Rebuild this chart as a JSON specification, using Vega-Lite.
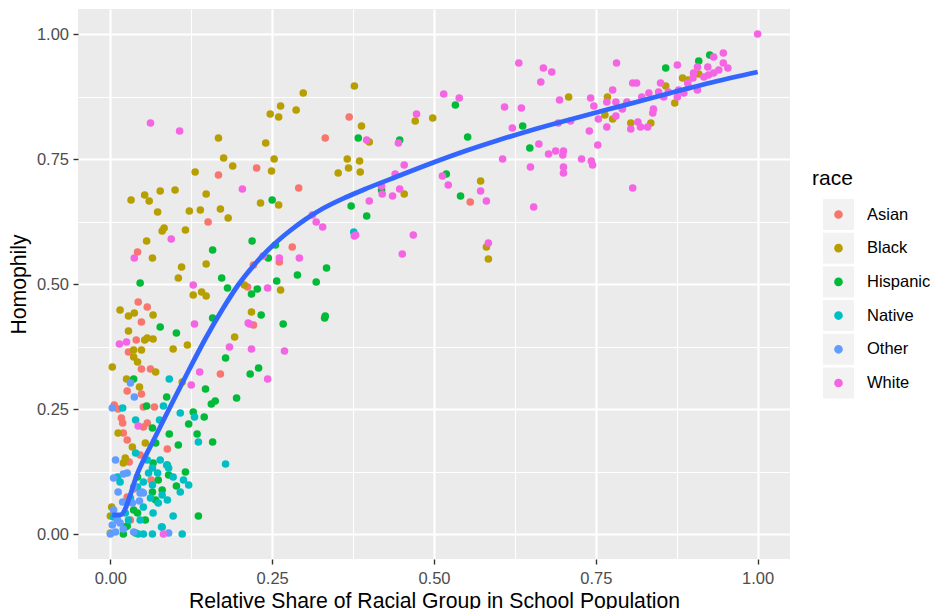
{
"$schema": "https://vega.github.io/schema/vega-lite/v6.json",
"width": 712, "height": 550,
"autosize": {"type": "none"},
"padding": {"left": 78, "top": 9, "right": 145, "bottom": 50},
"background": "white",
"config": {
  "view": {"fill": "#EBEBEB", "stroke": null},
  "font": "Liberation Sans",
  "axis": {"domain": false, "grid": true, "gridColor": "#FFFFFF", "tickColor": "#333333", "tickWidth": 1.4, "tickSize": 5, "labelColor": "#4D4D4D", "labelFontSize": 16.5, "labelFont": "Liberation Sans", "titleFont": "Liberation Sans", "titleFontSize": 21.2, "titleFontWeight": "normal", "titleColor": "#000000", "labelOverlap": false, "labelFlush": false}
},
"datasets": {
"pts": [
{"race":"Asian","share":0.332,"homophily":0.792},{"race":"Asian","share":0.226,"homophily":0.732},{"race":"Asian","share":0.167,"homophily":0.718},{"race":"Asian","share":0.291,"homophily":0.692},{"race":"Asian","share":0.151,"homophily":0.624},{"race":"Asian","share":0.042,"homophily":0.564},{"race":"Asian","share":0.281,"homophily":0.574},{"race":"Asian","share":0.221,"homophily":0.538},{"race":"Asian","share":0.261,"homophily":0.544},{"race":"Asian","share":0.369,"homophily":0.834},{"race":"Asian","share":0.556,"homophily":0.664},{"race":"Asian","share":0.212,"homophily":0.494},{"race":"Asian","share":0.221,"homophily":0.418},{"race":"Asian","share":0.170,"homophily":0.320},{"race":"Asian","share":0.043,"homophily":0.464},{"race":"Asian","share":0.057,"homophily":0.454},{"race":"Asian","share":0.048,"homophily":0.424},{"race":"Asian","share":0.040,"homophily":0.388},{"race":"Asian","share":0.028,"homophily":0.364},{"race":"Asian","share":0.048,"homophily":0.330},{"race":"Asian","share":0.062,"homophily":0.330},{"race":"Asian","share":0.026,"homophily":0.286},{"race":"Asian","share":0.048,"homophily":0.280},{"race":"Asian","share":0.006,"homophily":0.258},{"race":"Asian","share":0.012,"homophily":0.250},{"race":"Asian","share":0.051,"homophily":0.254},{"race":"Asian","share":0.068,"homophily":0.254},{"race":"Asian","share":0.017,"homophily":0.232},{"race":"Asian","share":0.019,"homophily":0.222},{"race":"Asian","share":0.057,"homophily":0.222},{"race":"Asian","share":0.051,"homophily":0.214},{"race":"Asian","share":0.020,"homophily":0.202},{"race":"Asian","share":0.026,"homophily":0.188},{"race":"Asian","share":0.088,"homophily":0.170},{"race":"Asian","share":0.046,"homophily":0.158},{"race":"Asian","share":0.029,"homophily":0.144},{"race":"Asian","share":0.063,"homophily":0.108},{"race":"Asian","share":0.036,"homophily":0.090},{"race":"Asian","share":0.026,"homophily":0.074},{"race":"Asian","share":0.031,"homophily":0.028},
{"race":"Black","share":0.298,"homophily":0.882},{"race":"Black","share":0.263,"homophily":0.856},{"race":"Black","share":0.247,"homophily":0.840},{"race":"Black","share":0.260,"homophily":0.834},{"race":"Black","share":0.287,"homophily":0.848},{"race":"Black","share":0.167,"homophily":0.792},{"race":"Black","share":0.240,"homophily":0.782},{"race":"Black","share":0.175,"homophily":0.752},{"race":"Black","share":0.189,"homophily":0.736},{"race":"Black","share":0.253,"homophily":0.750},{"race":"Black","share":0.249,"homophily":0.726},{"race":"Black","share":0.131,"homophily":0.724},{"race":"Black","share":0.352,"homophily":0.722},{"race":"Black","share":0.032,"homophily":0.668},{"race":"Black","share":0.053,"homophily":0.678},{"race":"Black","share":0.060,"homophily":0.666},{"race":"Black","share":0.077,"homophily":0.686},{"race":"Black","share":0.100,"homophily":0.688},{"race":"Black","share":0.148,"homophily":0.680},{"race":"Black","share":0.073,"homophily":0.644},{"race":"Black","share":0.122,"homophily":0.646},{"race":"Black","share":0.139,"homophily":0.648},{"race":"Black","share":0.170,"homophily":0.650},{"race":"Black","share":0.182,"homophily":0.632},{"race":"Black","share":0.232,"homophily":0.662},{"race":"Black","share":0.260,"homophily":0.658},{"race":"Black","share":0.083,"homophily":0.612},{"race":"Black","share":0.080,"homophily":0.606},{"race":"Black","share":0.116,"homophily":0.608},{"race":"Black","share":0.056,"homophily":0.586},{"race":"Black","share":0.065,"homophily":0.552},{"race":"Black","share":0.110,"homophily":0.534},{"race":"Black","share":0.148,"homophily":0.540},{"race":"Black","share":0.105,"homophily":0.512},{"race":"Black","share":0.141,"homophily":0.484},{"race":"Black","share":0.148,"homophily":0.476},{"race":"Black","share":0.128,"homophily":0.478},{"race":"Black","share":0.263,"homophily":0.488},{"race":"Black","share":0.207,"homophily":0.498},{"race":"Black","share":0.218,"homophily":0.444},{"race":"Black","share":0.192,"homophily":0.394},{"race":"Black","share":0.015,"homophily":0.448},{"race":"Black","share":0.028,"homophily":0.436},{"race":"Black","share":0.037,"homophily":0.442},{"race":"Black","share":0.066,"homophily":0.438},{"race":"Black","share":0.028,"homophily":0.406},{"race":"Black","share":0.053,"homophily":0.388},{"race":"Black","share":0.066,"homophily":0.390},{"race":"Black","share":0.057,"homophily":0.392},{"race":"Black","share":0.036,"homophily":0.368},{"race":"Black","share":0.048,"homophily":0.368},{"race":"Black","share":0.036,"homophily":0.354},{"race":"Black","share":0.042,"homophily":0.344},{"race":"Black","share":0.003,"homophily":0.334},{"race":"Black","share":0.070,"homophily":0.324},{"race":"Black","share":0.025,"homophily":0.310},{"race":"Black","share":0.045,"homophily":0.294},{"race":"Black","share":0.097,"homophily":0.370},{"race":"Black","share":0.119,"homophily":0.378},{"race":"Black","share":0.111,"homophily":0.304},{"race":"Black","share":0.012,"homophily":0.202},{"race":"Black","share":0.054,"homophily":0.182},{"race":"Black","share":0.034,"homophily":0.174},{"race":"Black","share":0.023,"homophily":0.152},{"race":"Black","share":0.020,"homophily":0.142},{"race":"Black","share":0.002,"homophily":0.054},{"race":"Black","share":0.0,"homophily":0.036},{"race":"Black","share":0.0,"homophily":0.002},{"race":"Black","share":0.377,"homophily":0.896},{"race":"Black","share":0.388,"homophily":0.816},{"race":"Black","share":0.400,"homophily":0.784},{"race":"Black","share":0.366,"homophily":0.750},{"race":"Black","share":0.385,"homophily":0.746},{"race":"Black","share":0.368,"homophily":0.732},{"race":"Black","share":0.386,"homophily":0.724},{"race":"Black","share":0.471,"homophily":0.826},{"race":"Black","share":0.498,"homophily":0.832},{"race":"Black","share":0.454,"homophily":0.680},{"race":"Black","share":0.572,"homophily":0.706},{"race":"Black","share":0.581,"homophily":0.574},{"race":"Black","share":0.584,"homophily":0.550},{"race":"Black","share":0.708,"homophily":0.874},{"race":"Black","share":0.768,"homophily":0.874},{"race":"Black","share":0.764,"homophily":0.838},{"race":"Black","share":0.776,"homophily":0.830},{"race":"Black","share":0.804,"homophily":0.822},{"race":"Black","share":0.835,"homophily":0.822},{"race":"Black","share":0.858,"homophily":0.896},{"race":"Black","share":0.872,"homophily":0.862},{"race":"Black","share":0.884,"homophily":0.912},{"race":"Black","share":0.892,"homophily":0.908},{"race":"Black","share":0.909,"homophily":0.920},
{"race":"Hispanic","share":0.250,"homophily":0.668},{"race":"Hispanic","share":0.219,"homophily":0.586},{"race":"Hispanic","share":0.158,"homophily":0.568},{"race":"Hispanic","share":0.244,"homophily":0.552},{"race":"Hispanic","share":0.255,"homophily":0.578},{"race":"Hispanic","share":0.289,"homophily":0.518},{"race":"Hispanic","share":0.334,"homophily":0.532},{"race":"Hispanic","share":0.318,"homophily":0.504},{"race":"Hispanic","share":0.172,"homophily":0.512},{"race":"Hispanic","share":0.046,"homophily":0.502},{"race":"Hispanic","share":0.533,"homophily":0.858},{"race":"Hispanic","share":0.552,"homophily":0.794},{"race":"Hispanic","share":0.637,"homophily":0.816},{"race":"Hispanic","share":0.648,"homophily":0.772},{"race":"Hispanic","share":0.447,"homophily":0.788},{"race":"Hispanic","share":0.383,"homophily":0.792},{"race":"Hispanic","share":0.519,"homophily":0.720},{"race":"Hispanic","share":0.541,"homophily":0.676},{"race":"Hispanic","share":0.372,"homophily":0.656},{"race":"Hispanic","share":0.396,"homophily":0.636},{"race":"Hispanic","share":0.419,"homophily":0.688},{"race":"Hispanic","share":0.858,"homophily":0.932},{"race":"Hispanic","share":0.909,"homophily":0.946},{"race":"Hispanic","share":0.926,"homophily":0.958},{"race":"Hispanic","share":0.257,"homophily":0.506},{"race":"Hispanic","share":0.181,"homophily":0.492},{"race":"Hispanic","share":0.227,"homophily":0.490},{"race":"Hispanic","share":0.218,"homophily":0.480},{"race":"Hispanic","share":0.233,"homophily":0.438},{"race":"Hispanic","share":0.267,"homophily":0.420},{"race":"Hispanic","share":0.332,"homophily":0.436},{"race":"Hispanic","share":0.331,"homophily":0.432},{"race":"Hispanic","share":0.158,"homophily":0.432},{"race":"Hispanic","share":0.102,"homophily":0.402},{"race":"Hispanic","share":0.077,"homophily":0.414},{"race":"Hispanic","share":0.178,"homophily":0.352},{"race":"Hispanic","share":0.229,"homophily":0.332},{"race":"Hispanic","share":0.216,"homophily":0.320},{"race":"Hispanic","share":0.147,"homophily":0.290},{"race":"Hispanic","share":0.195,"homophily":0.272},{"race":"Hispanic","share":0.162,"homophily":0.266},{"race":"Hispanic","share":0.156,"homophily":0.260},{"race":"Hispanic","share":0.128,"homophily":0.244},{"race":"Hispanic","share":0.145,"homophily":0.234},{"race":"Hispanic","share":0.121,"homophily":0.220},{"race":"Hispanic","share":0.036,"homophily":0.310},{"race":"Hispanic","share":0.087,"homophily":0.274},{"race":"Hispanic","share":0.056,"homophily":0.256},{"race":"Hispanic","share":0.134,"homophily":0.200},{"race":"Hispanic","share":0.158,"homophily":0.184},{"race":"Hispanic","share":0.105,"homophily":0.178},{"race":"Hispanic","share":0.091,"homophily":0.200},{"race":"Hispanic","share":0.065,"homophily":0.212},{"race":"Hispanic","share":0.070,"homophily":0.182},{"race":"Hispanic","share":0.116,"homophily":0.124},{"race":"Hispanic","share":0.088,"homophily":0.138},{"race":"Hispanic","share":0.090,"homophily":0.118},{"race":"Hispanic","share":0.102,"homophily":0.096},{"race":"Hispanic","share":0.080,"homophily":0.088},{"race":"Hispanic","share":0.065,"homophily":0.084},{"race":"Hispanic","share":0.070,"homophily":0.068},{"race":"Hispanic","share":0.036,"homophily":0.048},{"race":"Hispanic","share":0.054,"homophily":0.028},{"race":"Hispanic","share":0.023,"homophily":0.014},{"race":"Hispanic","share":0.039,"homophily":0.002},{"race":"Hispanic","share":0.020,"homophily":0.0},{"race":"Hispanic","share":0.136,"homophily":0.036},{"race":"Hispanic","share":0.074,"homophily":0.108},{"race":"Hispanic","share":0.042,"homophily":0.114},{"race":"Hispanic","share":0.066,"homophily":0.142},{"race":"Hispanic","share":0.042,"homophily":0.042},{"race":"Hispanic","share":0.026,"homophily":0.016},
{"race":"Native","share":0.091,"homophily":0.310},{"race":"Native","share":0.082,"homophily":0.256},{"race":"Native","share":0.019,"homophily":0.252},{"race":"Native","share":0.130,"homophily":0.234},{"race":"Native","share":0.039,"homophily":0.228},{"race":"Native","share":0.076,"homophily":0.228},{"race":"Native","share":0.136,"homophily":0.184},{"race":"Native","share":0.178,"homophily":0.140},{"race":"Native","share":0.097,"homophily":0.114},{"race":"Native","share":0.121,"homophily":0.098},{"race":"Native","share":0.108,"homophily":0.084},{"race":"Native","share":0.088,"homophily":0.068},{"race":"Native","share":0.074,"homophily":0.062},{"race":"Native","share":0.062,"homophily":0.072},{"race":"Native","share":0.051,"homophily":0.054},{"race":"Native","share":0.051,"homophily":0.104},{"race":"Native","share":0.059,"homophily":0.122},{"race":"Native","share":0.077,"homophily":0.148},{"race":"Native","share":0.057,"homophily":0.148},{"race":"Native","share":0.065,"homophily":0.132},{"race":"Native","share":0.042,"homophily":0.094},{"race":"Native","share":0.031,"homophily":0.072},{"race":"Native","share":0.015,"homophily":0.104},{"race":"Native","share":0.011,"homophily":0.114},{"race":"Native","share":0.097,"homophily":0.036},{"race":"Native","share":0.079,"homophily":0.014},{"race":"Native","share":0.111,"homophily":0.0},{"race":"Native","share":0.065,"homophily":0.0},{"race":"Native","share":0.051,"homophily":0.0},{"race":"Native","share":0.043,"homophily":0.0},{"race":"Native","share":0.023,"homophily":0.042},{"race":"Native","share":0.046,"homophily":0.028},{"race":"Native","share":0.073,"homophily":0.122},{"race":"Native","share":0.090,"homophily":0.132},{"race":"Native","share":0.080,"homophily":0.078},{"race":"Native","share":0.065,"homophily":0.098},{"race":"Native","share":0.376,"homophily":0.604},{"race":"Native","share":0.108,"homophily":0.242},{"race":"Native","share":0.039,"homophily":0.162},{"race":"Native","share":0.005,"homophily":0.034},{"race":"Native","share":0.028,"homophily":0.028},{"race":"Native","share":0.080,"homophily":0.014},{"race":"Native","share":0.066,"homophily":0.042},{"race":"Native","share":0.087,"homophily":0.138},{"race":"Native","share":0.113,"homophily":0.108},
{"race":"Other","share":0.008,"homophily":0.148},{"race":"Other","share":0.005,"homophily":0.112},{"race":"Other","share":0.020,"homophily":0.120},{"race":"Other","share":0.012,"homophily":0.084},{"race":"Other","share":0.019,"homophily":0.064},{"race":"Other","share":0.005,"homophily":0.048},{"race":"Other","share":0.011,"homophily":0.028},{"race":"Other","share":0.003,"homophily":0.018},{"race":"Other","share":0.015,"homophily":0.022},{"race":"Other","share":0.008,"homophily":0.004},{"race":"Other","share":0.0,"homophily":0.0},{"race":"Other","share":0.020,"homophily":0.010},{"race":"Other","share":0.036,"homophily":0.094},{"race":"Other","share":0.046,"homophily":0.082},{"race":"Other","share":0.026,"homophily":0.122},{"race":"Other","share":0.051,"homophily":0.082},{"race":"Other","share":0.003,"homophily":0.252},{"race":"Other","share":0.037,"homophily":0.274},{"race":"Other","share":0.031,"homophily":0.302},{"race":"Other","share":0.036,"homophily":0.004},{"race":"Other","share":0.049,"homophily":0.084},{"race":"Other","share":0.045,"homophily":0.066},{"race":"Other","share":0.034,"homophily":0.062},{"race":"Other","share":0.090,"homophily":0.002},
{"race":"White","share":0.062,"homophily":0.822},{"race":"White","share":0.107,"homophily":0.806},{"race":"White","share":0.204,"homophily":0.690},{"race":"White","share":0.094,"homophily":0.590},{"race":"White","share":0.037,"homophily":0.552},{"race":"White","share":0.292,"homophily":0.552},{"race":"White","share":0.261,"homophily":0.552},{"race":"White","share":0.236,"homophily":0.556},{"race":"White","share":0.312,"homophily":0.638},{"race":"White","share":0.318,"homophily":0.624},{"race":"White","share":0.328,"homophily":0.614},{"race":"White","share":0.128,"homophily":0.498},{"race":"White","share":0.130,"homophily":0.420},{"race":"White","share":0.215,"homophily":0.420},{"race":"White","share":0.184,"homophily":0.374},{"race":"White","share":0.218,"homophily":0.370},{"race":"White","share":0.269,"homophily":0.366},{"race":"White","share":0.138,"homophily":0.324},{"race":"White","share":0.125,"homophily":0.298},{"race":"White","share":0.243,"homophily":0.310},{"race":"White","share":0.014,"homophily":0.380},{"race":"White","share":0.025,"homophily":0.384},{"race":"White","share":0.243,"homophily":0.492},{"race":"White","share":0.377,"homophily":0.596},{"race":"White","share":0.213,"homophily":0.422},{"race":"White","share":0.043,"homophily":0.216},{"race":"White","share":0.082,"homophily":0.0},{"race":"White","share":0.515,"homophily":0.880},{"race":"White","share":0.539,"homophily":0.872},{"race":"White","share":0.609,"homophily":0.854},{"race":"White","share":0.635,"homophily":0.852},{"race":"White","share":0.621,"homophily":0.812},{"race":"White","share":0.694,"homophily":0.868},{"race":"White","share":0.662,"homophily":0.780},{"race":"White","share":0.677,"homophily":0.760},{"race":"White","share":0.606,"homophily":0.750},{"race":"White","share":0.649,"homophily":0.734},{"race":"White","share":0.654,"homophily":0.654},{"race":"White","share":0.396,"homophily":0.788},{"race":"White","share":0.445,"homophily":0.782},{"race":"White","share":0.473,"homophily":0.840},{"race":"White","share":0.454,"homophily":0.738},{"race":"White","share":0.440,"homophily":0.720},{"race":"White","share":0.513,"homophily":0.716},{"race":"White","share":0.522,"homophily":0.698},{"race":"White","share":0.447,"homophily":0.690},{"race":"White","share":0.420,"homophily":0.680},{"race":"White","share":0.436,"homophily":0.676},{"race":"White","share":0.400,"homophily":0.666},{"race":"White","share":0.419,"homophily":0.696},{"race":"White","share":0.572,"homophily":0.686},{"race":"White","share":0.581,"homophily":0.666},{"race":"White","share":0.379,"homophily":0.598},{"race":"White","share":0.468,"homophily":0.598},{"race":"White","share":0.451,"homophily":0.560},{"race":"White","share":0.584,"homophily":0.582},{"race":"White","share":1.0,"homophily":1.0},{"race":"White","share":0.947,"homophily":0.962},{"race":"White","share":0.932,"homophily":0.954},{"race":"White","share":0.876,"homophily":0.938},{"race":"White","share":0.782,"homophily":0.942},{"race":"White","share":0.669,"homophily":0.932},{"race":"White","share":0.682,"homophily":0.924},{"race":"White","share":0.665,"homophily":0.904},{"race":"White","share":0.807,"homophily":0.902},{"race":"White","share":0.813,"homophily":0.902},{"race":"White","share":0.776,"homophily":0.888},{"race":"White","share":0.742,"homophily":0.872},{"race":"White","share":0.747,"homophily":0.856},{"race":"White","share":0.767,"homophily":0.864},{"race":"White","share":0.781,"homophily":0.864},{"race":"White","share":0.798,"homophily":0.864},{"race":"White","share":0.821,"homophily":0.874},{"race":"White","share":0.832,"homophily":0.882},{"race":"White","share":0.850,"homophily":0.902},{"race":"White","share":0.847,"homophily":0.884},{"race":"White","share":0.855,"homophily":0.874},{"race":"White","share":0.862,"homophily":0.884},{"race":"White","share":0.878,"homophily":0.888},{"race":"White","share":0.892,"homophily":0.902},{"race":"White","share":0.901,"homophily":0.922},{"race":"White","share":0.907,"homophily":0.934},{"race":"White","share":0.923,"homophily":0.934},{"race":"White","share":0.932,"homophily":0.922},{"race":"White","share":0.940,"homophily":0.928},{"race":"White","share":0.954,"homophily":0.932},{"race":"White","share":0.947,"homophily":0.942},{"race":"White","share":0.907,"homophily":0.888},{"race":"White","share":0.791,"homophily":0.850},{"race":"White","share":0.781,"homophily":0.836},{"race":"White","share":0.754,"homophily":0.830},{"race":"White","share":0.767,"homophily":0.814},{"race":"White","share":0.740,"homophily":0.806},{"race":"White","share":0.753,"homophily":0.778},{"race":"White","share":0.711,"homophily":0.826},{"race":"White","share":0.692,"homophily":0.822},{"race":"White","share":0.839,"homophily":0.850},{"race":"White","share":0.838,"homophily":0.842},{"race":"White","share":0.815,"homophily":0.824},{"race":"White","share":0.819,"homophily":0.814},{"race":"White","share":0.830,"homophily":0.814},{"race":"White","share":0.804,"homophily":0.810},{"race":"White","share":0.688,"homophily":0.766},{"race":"White","share":0.700,"homophily":0.766},{"race":"White","share":0.699,"homophily":0.758},{"race":"White","share":0.700,"homophily":0.734},{"race":"White","share":0.700,"homophily":0.722},{"race":"White","share":0.728,"homophily":0.750},{"race":"White","share":0.743,"homophily":0.746},{"race":"White","share":0.745,"homophily":0.738},{"race":"White","share":0.807,"homophily":0.692},{"race":"White","share":0.876,"homophily":0.874},{"race":"White","share":0.886,"homophily":0.882},{"race":"White","share":0.924,"homophily":0.918},{"race":"White","share":0.917,"homophily":0.914},{"race":"White","share":0.900,"homophily":0.912},{"race":"White","share":0.893,"homophily":0.894},{"race":"White","share":0.631,"homophily":0.942}
],
"smooth": [
{"share":0.003,"homophily":0.038},{"share":0.015,"homophily":0.038},{"share":0.044,"homophily":0.128},{"share":0.070,"homophily":0.196},{"share":0.095,"homophily":0.261},{"share":0.121,"homophily":0.327},{"share":0.147,"homophily":0.391},{"share":0.173,"homophily":0.449},{"share":0.198,"homophily":0.499},{"share":0.224,"homophily":0.541},{"share":0.250,"homophily":0.576},{"share":0.276,"homophily":0.605},{"share":0.301,"homophily":0.629},{"share":0.327,"homophily":0.650},{"share":0.363,"homophily":0.673},{"share":0.392,"homophily":0.689},{"share":0.443,"homophily":0.715},{"share":0.501,"homophily":0.744},{"share":0.546,"homophily":0.765},{"share":0.598,"homophily":0.787},{"share":0.649,"homophily":0.807},{"share":0.696,"homophily":0.824},{"share":0.768,"homophily":0.849},{"share":0.819,"homophily":0.866},{"share":0.871,"homophily":0.884},{"share":0.922,"homophily":0.901},{"share":1.0,"homophily":0.924}
]
},
"layer": [
{
 "data": {"name": "pts"},
 "mark": {"type": "point", "filled": true, "size": 58, "opacity": 1, "strokeWidth": 0},
 "encoding": {
  "x": {"field": "share", "type": "quantitative",
        "scale": {"domain": [-0.05, 1.05], "nice": false, "zero": false},
        "axis": {"title": "Relative Share of Racial Group in School Population",
                 "values": [0, 0.125, 0.25, 0.375, 0.5, 0.625, 0.75, 0.875, 1],
                 "labelExpr": "(datum.value*4)%1==0 ? format(datum.value, '.2f') : ''",
                 "gridWidth": {"condition": {"test": "(datum.value*4)%1==0", "value": 2.2}, "value": 1.1},
                 "tickOpacity": {"condition": {"test": "(datum.value*4)%1!=0", "value": 0}, "value": 1},
                 "labelPadding": 6, "titlePadding": 4}},
  "y": {"field": "homophily", "type": "quantitative",
        "scale": {"domain": [-0.05, 1.05], "nice": false, "zero": false},
        "axis": {"title": "Homophily",
                 "values": [0, 0.125, 0.25, 0.375, 0.5, 0.625, 0.75, 0.875, 1],
                 "labelExpr": "(datum.value*4)%1==0 ? format(datum.value, '.2f') : ''",
                 "gridWidth": {"condition": {"test": "(datum.value*4)%1==0", "value": 2.2}, "value": 1.1},
                 "tickOpacity": {"condition": {"test": "(datum.value*4)%1!=0", "value": 0}, "value": 1},
                 "labelPadding": 4.5, "titlePadding": 6.5}},
  "fill": {"field": "race", "type": "nominal",
           "scale": {"domain": ["Asian", "Black", "Hispanic", "Native", "Other", "White"],
                     "range": ["#F8766D", "#B79F00", "#00BA38", "#00BFC4", "#619CFF", "#F564E3"]},
           "legend": {"title": "race", "orient": "none", "legendX": 734, "legendY": 159.4, "zindex": 2, "padding": 0,
                      "symbolType": "M-1,-1L-1,-1M1,1L1,1M0.28,0A0.28,0.28,0,1,1,-0.28,0A0.28,0.28,0,1,1,0.28,0Z",
                      "symbolSize": 961, "symbolOffset": 11, "symbolStrokeWidth": 0, "symbolOpacity": 1,
                      "labelOffset": 13, "rowPadding": 2.7, "titlePadding": 9.6,
                      "labelFont": "Liberation Sans", "labelFontSize": 16.5, "labelColor": "#000000", "labelOpacity": 0,
                      "titleFont": "Liberation Sans", "titleFontSize": 21, "titleFontWeight": "normal", "titleColor": "#000000", "titleOpacity": 0}},
  "stroke": {"field": "race", "type": "nominal",
             "scale": {"range": ["#F2F2F2", "#F2F2F2", "#F2F2F2", "#F2F2F2", "#F2F2F2", "#F2F2F2"]},
             "legend": {"title": "race", "orient": "none", "legendX": 734, "legendY": 159.4, "zindex": 1, "padding": 0,
                        "symbolType": "square", "symbolSize": 961, "symbolOffset": 11, "symbolStrokeWidth": 0,
                        "symbolFillColor": "#F2F2F2", "symbolOpacity": 1,
                        "labelOffset": 13, "rowPadding": 2.7, "titlePadding": 9.6,
                        "labelFont": "Liberation Sans", "labelFontSize": 16.5, "labelColor": "#000000",
                        "titleFont": "Liberation Sans", "titleFontSize": 21, "titleFontWeight": "normal", "titleColor": "#000000"}}
 }
},
{
 "data": {"name": "smooth"},
 "mark": {"type": "line", "color": "#3366FF", "strokeWidth": 4.8, "interpolate": "monotone"},
 "encoding": {
  "x": {"field": "share", "type": "quantitative"},
  "y": {"field": "homophily", "type": "quantitative"}
 }
}
]
}
